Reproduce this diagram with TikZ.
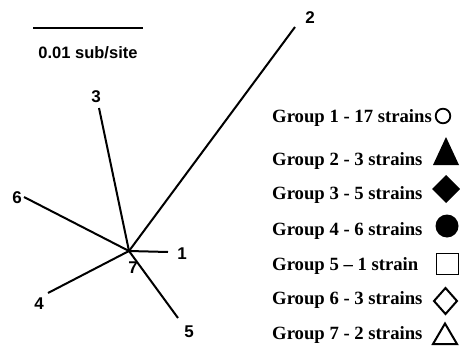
\documentclass[tikz,border=0pt]{standalone}
\usepackage{fontspec}
\setmainfont{Liberation Serif}
\newfontfamily\treefont{Liberation Sans}
\usetikzlibrary{positioning}

\begin{document}
\begin{tikzpicture}[x=1pt,y=-1pt,
  branch/.style={line width=2pt},
  leaf/.style={font=\treefont\bfseries\fontsize{17}{17}\selectfont,inner sep=0pt},
  grp/.style={anchor=base west,inner sep=0pt,font=\bfseries\fontsize{18.7}{20}\selectfont}]
\useasboundingbox (0,0) rectangle (460,350);
% scale bar
\coordinate (s1) at (33,28);
\coordinate (s2) at (143,28);
\draw[line width=2.3pt] (s1) -- (s2);
\node[leaf,anchor=base,font=\treefont\bfseries\fontsize{16.5}{16.5}\selectfont] (scale) at (88,59) {0.01 sub/site};
% tree
\coordinate (c) at (129,251);
\coordinate (e1) at (168,252);
\coordinate (e2) at (295,27);
\coordinate (e3) at (99,108);
\coordinate (e4) at (48,293);
\coordinate (e5) at (178,318);
\coordinate (e6) at (24,197);
\draw[branch] (c) -- (e1);
\draw[branch] (c) -- (e2);
\draw[branch] (c) -- (e3);
\draw[branch] (c) -- (e4);
\draw[branch] (c) -- (e5);
\draw[branch] (c) -- (e6);
\node[leaf] (n1) at (182,254) {1};
\node[leaf] (n2) at (310,18) {2};
\node[leaf] (n3) at (96,97) {3};
\node[leaf] (n4) at (39,304) {4};
\node[leaf] (n5) at (189,332) {5};
\node[leaf] (n6) at (17,198) {6};
\node[leaf] (n7) at (133,268) {7};
% legend
\node[grp] (g1) at (272,123) {Group 1 - 17 strains};
\node[grp] (g2) at (272,165) {Group 2 - 3 strains};
\node[grp] (g3) at (272,199) {Group 3 - 5 strains};
\node[grp] (g4) at (272,235) {Group 4 - 6 strains};
\node[grp] (g5) at (272,270) {Group 5 -- 1 strain};
\node[grp] (g6) at (272,304) {Group 6 - 3 strains};
\node[grp] (g7) at (272,339) {Group 7 - 2 strains};
\draw[line width=1.8pt] (443,116) circle[radius=7.3pt];
\fill (446,137) -- (459,165) -- (433,165) -- cycle;
\fill (446,175) -- (460,189) -- (446,203) -- (432,189) -- cycle;
\fill (447,226) circle[radius=11.5pt];
\draw[line width=1pt] (436.5,253.5) rectangle (458.5,274.5);
\draw[line width=2pt] (445.5,288) -- (457,301) -- (445.5,314) -- (434,301) -- cycle;
\draw[line width=2pt,line join=miter] (445,323.5) -- (457,344) -- (433,344) -- cycle;
\end{tikzpicture}
\end{document}
